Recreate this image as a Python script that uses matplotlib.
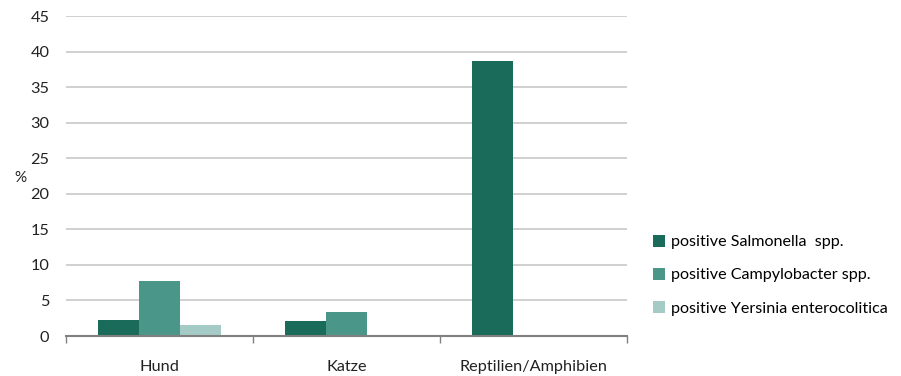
import numpy as np
import matplotlib.pyplot as plt

categories = ['Hund', 'Katze', 'Reptilien/Amphibien']
series = ['positive Salmonella  spp.', 'positive Campylobacter spp.', 'positive Yersinia enterocolitica']
salmonella = [2.25, 2.1, 38.7]
campylobacter = [7.7, 3.4, 0]
yersinia = [1.55, 0, 0]
yticks = [0, 5, 10, 15, 20, 25, 30, 35, 40, 45]

colors = ['#1a6b5a', '#4a9789', '#a4cbc6']

plt.rcParams['font.family'] = ['Lato', 'DejaVu Sans']

fig = plt.figure(figsize=(9.01, 3.76), dpi=100)
ax = fig.add_axes([66 / 901, 1 - 336 / 376, (627 - 66) / 901, 320 / 376])

x = np.arange(len(categories))
w = 0.22
handles = []
for i, vals in enumerate([salmonella, campylobacter, yersinia]):
    b = ax.bar(x + (i - 1) * w, vals, w, color=colors[i], zorder=3, label=series[i])
    handles.append(b)

ax.set_xlim(-0.5, len(categories) - 0.5)
ax.set_ylim(0, 45)
ax.set_yticks(yticks)
ax.yaxis.grid(True, color='#c8c8c8', linewidth=1.2, zorder=0)
ax.set_axisbelow(True)
for s in ['left', 'right', 'top']:
    ax.spines[s].set_visible(False)
ax.spines['bottom'].set_color('#808080')
ax.spines['bottom'].set_linewidth(1.5)
ax.spines['bottom'].set_zorder(4)

ax.set_xticks(x)
ax.set_xticklabels(categories)
ax.tick_params(axis='x', length=0, pad=17, labelsize=11.7, colors='#222222')
ax.set_xticks(np.arange(len(categories) + 1) - 0.5, minor=True)
ax.tick_params(axis='x', which='minor', length=5, width=1, color='#808080', direction='out')
ax.tick_params(axis='y', length=0, pad=12, labelsize=11.7, colors='#222222')

fig.text(20 / 901, 1 - 178 / 376, '%', fontsize=11, ha='center', va='center', color='#222222')

ax.legend(handles=handles, loc='center left', bbox_to_anchor=(1.035, 0.19),
          frameon=False, fontsize=11.6, handlelength=0.75, handleheight=0.75,
          handletextpad=0.35, labelspacing=1.15, borderaxespad=0)

fig.savefig('out.png', dpi=100)
